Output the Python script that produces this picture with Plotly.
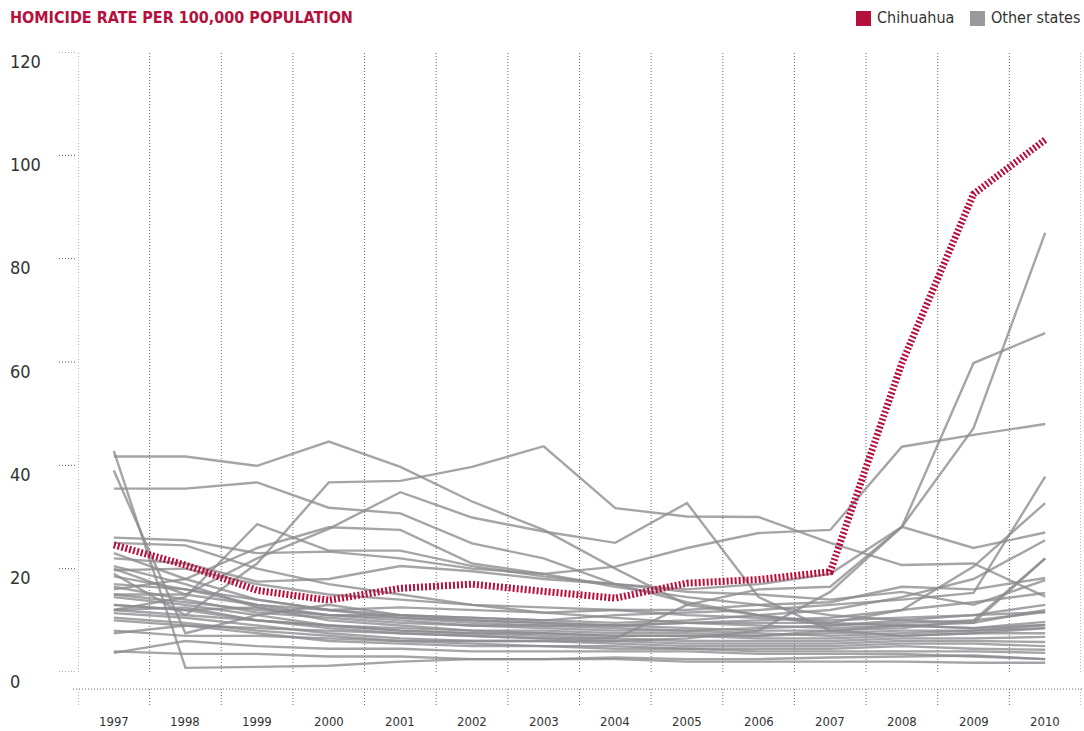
import plotly.graph_objects as go

# ---------------- data ----------------
years = [1997, 1998, 1999, 2000, 2001, 2002, 2003, 2004, 2005, 2006, 2007, 2008, 2009, 2010]
year_labels = [str(y) for y in years]
y_ticks = [0, 20, 40, 60, 80, 100, 120]

chihuahua = [24.6, 20.7, 15.8, 13.9, 16.2, 17.0, 15.6, 14.3, 17.2, 17.9, 19.4, 59.8, 92.5, 103.0]

s01 = [41.7, 41.7, 39.9, 44.6, 39.7, 33.0, 27.5, 20.0, 13.0, 11.0, 9.0, 9.5, 10.0, 11.6]
s02 = [19.0, 11.0, 21.0, 36.7, 37.0, 39.7, 43.7, 31.7, 30.1, 30.0, 25.0, 20.7, 21.0, 14.6]
s03 = [35.5, 35.5, 36.7, 31.8, 30.7, 24.9, 22.0, 17.0, 13.5, 11.0, 9.5, 9.0, 8.5, 9.1]
s04 = [20.0, 15.0, 22.0, 27.7, 34.8, 29.9, 27.2, 25.0, 32.7, 14.5, 8.0, 7.0, 7.5, 8.5]
s05 = [12.0, 14.5, 28.6, 23.5, 23.5, 20.5, 18.5, 17.0, 15.5, 15.0, 14.0, 15.5, 13.0, 17.8]
s06 = [42.8, 0.8, 1.0, 1.2, 2.0, 2.5, 2.5, 2.8, 2.5, 2.5, 2.8, 3.0, 3.2, 2.5]
s07 = [39.0, 7.5, 11.0, 13.0, 11.0, 10.0, 9.5, 9.0, 8.5, 8.0, 8.0, 8.5, 10.0, 22.0]
s08 = [10.0, 9.0, 8.5, 8.0, 7.5, 7.0, 6.5, 6.5, 13.0, 16.0, 16.5, 28.1, 47.2, 85.0]
s09 = [8.0, 7.0, 7.0, 6.5, 6.0, 6.0, 6.0, 6.0, 6.5, 8.0, 15.5, 28.1, 59.8, 65.6]
s10 = [26.0, 25.5, 23.0, 23.3, 22.0, 20.0, 19.0, 20.4, 24.0, 26.9, 27.5, 43.6, 45.9, 48.0]
s11 = [22.0, 21.0, 17.5, 18.0, 20.5, 19.5, 18.0, 17.0, 16.0, 17.0, 19.0, 28.1, 24.0, 27.0]
s12 = [17.0, 16.0, 14.0, 12.0, 11.0, 10.5, 10.0, 11.0, 11.5, 12.0, 13.0, 14.0, 15.3, 37.8]
s13 = [15.0, 15.0, 13.0, 11.0, 10.0, 9.0, 9.0, 9.0, 9.5, 10.0, 10.5, 12.0, 20.4, 32.7]
s14 = [13.0, 12.0, 12.5, 11.0, 11.0, 10.5, 10.0, 9.5, 10.0, 11.0, 12.0, 14.5, 18.0, 25.5]
s15 = [12.0, 11.0, 10.0, 9.0, 8.5, 8.0, 8.0, 7.5, 7.5, 7.0, 8.0, 9.0, 9.5, 22.0]
s16 = [18.5, 16.0, 13.0, 12.0, 12.5, 12.0, 11.5, 12.0, 12.0, 13.0, 13.5, 16.5, 16.0, 18.2]
s17 = [25.0, 24.5, 20.0, 17.0, 15.0, 13.0, 11.5, 10.5, 9.5, 9.0, 8.5, 9.0, 8.5, 9.7]
s18 = [23.0, 18.0, 14.0, 12.0, 10.5, 9.5, 9.0, 8.5, 8.0, 7.5, 7.0, 7.5, 8.0, 8.5]
s19 = [20.5, 17.0, 12.5, 10.0, 9.0, 8.0, 7.5, 7.0, 7.0, 6.5, 6.5, 7.0, 7.5, 7.5]
s20 = [16.5, 14.0, 11.5, 10.5, 9.5, 9.0, 8.5, 8.0, 8.0, 8.5, 9.0, 10.0, 11.0, 11.6]
s21 = [14.5, 13.0, 11.0, 9.0, 8.0, 7.5, 7.0, 6.5, 6.0, 6.0, 6.0, 6.5, 6.5, 6.8]
s22 = [13.0, 12.0, 10.0, 8.5, 7.5, 7.0, 6.5, 6.0, 5.5, 5.5, 5.5, 6.0, 6.0, 5.8]
s23 = [11.4, 10.5, 9.0, 7.5, 6.5, 6.0, 6.0, 5.5, 5.0, 5.0, 5.0, 5.5, 5.5, 5.0]
s24 = [10.5, 9.5, 8.0, 7.0, 6.0, 5.5, 5.0, 5.0, 4.5, 4.5, 4.5, 5.0, 4.5, 4.3]
s25 = [7.5, 9.0, 7.5, 6.0, 5.5, 5.0, 5.0, 4.5, 4.5, 4.0, 4.0, 4.0, 4.0, 3.7]
s26 = [3.7, 6.0, 5.0, 4.5, 4.5, 4.0, 4.0, 4.0, 4.0, 3.5, 3.5, 3.5, 3.0, 2.5]
s27 = [4.0, 3.5, 3.5, 3.0, 3.0, 2.5, 2.5, 2.5, 2.0, 2.0, 2.0, 2.0, 1.8, 1.8]
s28 = [19.7, 20.0, 17.0, 15.0, 14.0, 13.0, 12.5, 12.0, 11.0, 10.5, 10.0, 10.5, 11.0, 13.0]
s29 = [15.0, 13.5, 12.0, 11.0, 10.5, 10.0, 9.5, 9.0, 9.5, 9.5, 9.5, 12.0, 13.5, 15.3]
s30 = [12.0, 12.5, 10.0, 9.0, 8.0, 7.5, 7.5, 7.0, 7.0, 7.0, 7.5, 8.0, 8.0, 9.1]
s31 = [16.0, 18.0, 24.0, 28.0, 27.5, 21.0, 19.0, 16.5, 14.5, 13.0, 11.0, 10.0, 9.5, 12.0]

other_states = [s01, s02, s03, s04, s05, s06, s07, s08, s09, s10, s11, s12, s13, s14, s15, s16,
                s17, s18, s19, s20, s21, s22, s23, s24, s25, s26, s27, s28, s29, s30, s31]

title_text = "HOMICIDE RATE PER 100,000 POPULATION"
legend_names = ["Chihuahua", "Other states"]

# ---------------- style ----------------
W, H = 1084, 731
L, R, T, B = 78, 1081, 52, 672          # plot area in pixels
RED = "#b5103c"
GRAY_LINE = "rgba(140,140,143,0.78)"
GRAY_LEG = "#9a9a9c"
DOT = "1px,2px"
NARROW = "DejaVu Sans Condensed, Liberation Sans Narrow, sans-serif"
TXT = "#333333"


def px_x(px):
    return (px - L) / (R - L)


def px_y(py):
    return (B - py) / (B - T)


fig = go.Figure()

for s in other_states:
    fig.add_trace(go.Scatter(x=years, y=s, mode="lines",
                             line=dict(color=GRAY_LINE, width=2.4),
                             showlegend=False, hoverinfo="skip"))

fig.add_trace(go.Scatter(x=years, y=chihuahua, mode="lines",
                         line=dict(color=RED, width=7, dash="2px,2px"),
                         showlegend=False, hoverinfo="skip"))

shapes = []
annotations = []

# vertical dotted gridlines at year boundaries
bounds = [years[0] - 0.5] + [y + 0.5 for y in years]
for b in bounds:
    shapes.append(dict(type="line", xref="x", yref="y", x0=b, x1=b, y0=0, y1=y_ticks[-1],
                       line=dict(color="#6a6a6a", width=1, dash=DOT), layer="below"))
    # hanging ticks under the bottom axis line
    shapes.append(dict(type="line", xref="x", yref="paper", x0=b, x1=b,
                       y0=px_y(689), y1=px_y(707),
                       line=dict(color="#6a6a6a", width=1, dash=DOT)))

# bottom dotted axis line
shapes.append(dict(type="line", xref="paper", yref="paper", x0=px_x(73), x1=px_x(1084),
                   y0=px_y(689), y1=px_y(689),
                   line=dict(color="#6a6a6a", width=1, dash=DOT)))

# y ticks (short dotted) and labels
for v in y_ticks:
    shapes.append(dict(type="line", xref="paper", yref="y", x0=px_x(59), x1=px_x(77),
                       y0=v, y1=v, line=dict(color="#555555", width=1, dash=DOT)))
    annotations.append(dict(xref="paper", yref="y", x=px_x(8), y=v, yshift=-9,
                            text=str(v), showarrow=False, xanchor="left", yanchor="middle",
                            font=dict(family=NARROW, size=18, color=TXT)))

# x labels
for yr, lab in zip(years, year_labels):
    annotations.append(dict(xref="x", yref="paper", x=yr, y=px_y(721), text=lab,
                            showarrow=False, xanchor="center", yanchor="middle",
                            font=dict(family=NARROW, size=13, color=TXT)))

# title
annotations.append(dict(xref="paper", yref="paper", x=px_x(8), y=px_y(18), text="<b>" + title_text + "</b>",
                        showarrow=False, xanchor="left", yanchor="middle",
                        font=dict(family=NARROW, size=16, color=RED)))

# legend
leg_items = [(856, RED, legend_names[0]), (970, GRAY_LEG, legend_names[1])]
for x0, col, name in leg_items:
    shapes.append(dict(type="rect", xref="paper", yref="paper", x0=px_x(x0), x1=px_x(x0 + 15),
                       y0=px_y(26), y1=px_y(11), fillcolor=col, line=dict(width=0)))
    annotations.append(dict(xref="paper", yref="paper", x=px_x(x0 + 19), y=px_y(18), text=name,
                            showarrow=False, xanchor="left", yanchor="middle",
                            font=dict(family=NARROW, size=16, color=TXT)))

fig.update_layout(
    width=W, height=H, autosize=False,
    margin=dict(l=L, r=W - R, t=T, b=H - B, pad=0),
    paper_bgcolor="white", plot_bgcolor="white",
    xaxis=dict(range=[years[0] - 0.5, years[-1] + 0.5], visible=False, fixedrange=True),
    yaxis=dict(range=[y_ticks[0], y_ticks[-1]], visible=False, fixedrange=True),
    shapes=shapes, annotations=annotations,
    showlegend=False, hovermode=False,
)

fig.write_html("out.html", config={"displayModeBar": False, "staticPlot": True},
               post_script="document.body.style.margin='0';document.body.style.overflow='hidden';")
